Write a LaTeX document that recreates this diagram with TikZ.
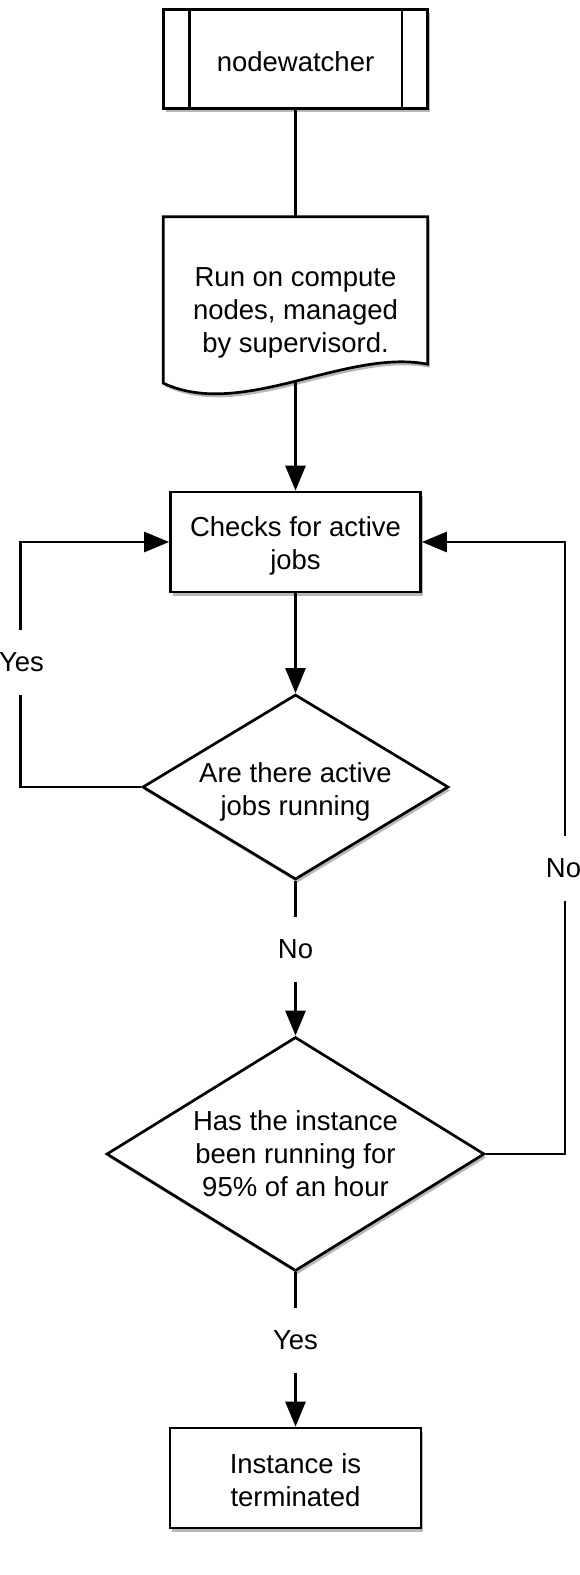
\documentclass[tikz,border=0pt]{standalone}
\usepackage{fontspec}
\setmainfont{Liberation Sans}
\usetikzlibrary{arrows.meta,shapes.geometric,shadows,calc}
\pgfdeclarelayer{background}
\pgfsetlayers{background,main}
\begin{document}
\begin{tikzpicture}[x=1pt,y=-1pt,
  every node/.style={font=\fontsize{27.5}{33}\selectfont},
  every label/.style={align=center},
  wire/.style={line width=2.7pt},
  conn/.style={wire,-{Triangle[length=25pt,width=20pt]}},
  shdw/.style={drop shadow={shadow xshift=2pt,shadow yshift=-3.5pt,opacity=0.28,fill=black}},
  rbox/.style={draw,line width=2.7pt,fill=white,rectangle,inner sep=0pt,shdw},
  dbox/.style={draw,line width=2.7pt,fill=white,diamond,inner sep=0pt,shdw},
  lbl/.style={fill=white,inner xsep=2pt,inner ysep=0pt,minimum height=65pt}
]
\useasboundingbox (0,0) rectangle (579,1575);

% nodewatcher (predefined process)
\node[rbox,minimum width=264pt,minimum height=98.5pt,
  label={[yshift=-3pt]center:nodewatcher}] (A) at (295.5,59) {};
\draw[wire] ($(A.north west)+(27,0)$) -- ($(A.south west)+(27,0)$);
\draw[wire] ($(A.north east)+(-27,0)$) -- ($(A.south east)+(-27,0)$);

% document shape
\node[inner sep=0pt,minimum width=264pt,minimum height=166pt,
  label={[yshift=-13pt]center:Run on compute\\nodes, managed\\by supervisord.}] (B) at (295.5,300) {};
\begin{pgfonlayer}{background}
\draw[wire,fill=white,shdw] (B.south west) -- (B.north west) -- (B.north east)
  -- ($(B.south east)+(0,-19)$)
  .. controls (390,357) and (350.5,367) .. ($(B.south)+(0,-2)$)
  .. controls (240.5,395) and (200,400) .. (B.south west) -- cycle;
\end{pgfonlayer}

% process box
\node[rbox,minimum width=250pt,minimum height=100pt,
  label={[yshift=-4pt]center:Checks for active\\jobs}] (C) at (295.5,542) {};

% decisions
\node[dbox,minimum width=306pt,minimum height=185pt,
  label={[yshift=-5pt]center:Are there active\\jobs running}] (D1) at (295.5,787) {};
\node[dbox,minimum width=378pt,minimum height=234pt,
  label={center:Has the instance\\been running for\\95\% of an hour}] (D2) at (295.5,1154) {};

% terminal box
\node[rbox,minimum width=251pt,minimum height=100pt,
  label={[yshift=-2pt]center:Instance is\\terminated}] (E) at (295.5,1478) {};

% connectors
\draw[wire] (A.south) -- (B.north);
\draw[conn] ($(B.south)+(0,-2)$) -- (C.north);
\draw[conn] (C.south) -- (D1.north);
\draw[conn] (D1.south) -- (D2.north);
\draw[conn] (D1.west) -- ++(-121,0) |- (C.west);
\draw[conn] (D2.east) -- ++(79,0) |- (C.east);
\draw[conn] (D2.south) -- (E.north);

% connector labels
\node[lbl] (l1) at (295.5,949) {No};
\node[lbl] (l2) at (21.5,662) {Yes};
\node[lbl] (l3) at (563.5,868) {No};
\node[lbl] (l4) at (295.5,1340) {Yes};
\end{tikzpicture}
\end{document}
